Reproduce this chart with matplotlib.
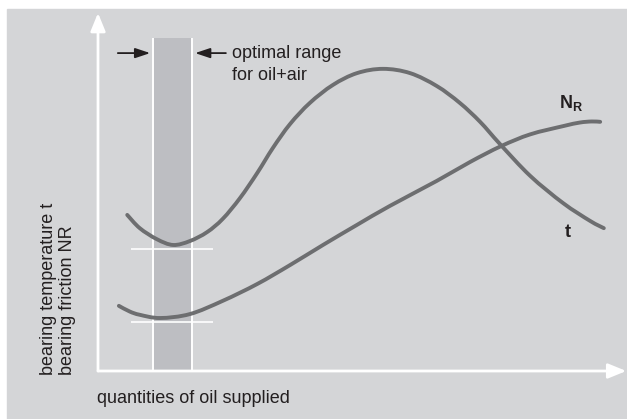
import matplotlib
matplotlib.use("Agg")
import matplotlib.pyplot as plt
import numpy as np
from matplotlib.patches import Rectangle, PathPatch
from matplotlib.path import Path

plt.rcParams["font.family"] = ["Liberation Sans", "DejaVu Sans"]
plt.rcParams["mathtext.fontset"] = "custom"
plt.rcParams["mathtext.bf"] = "Liberation Sans:bold"
plt.rcParams["mathtext.rm"] = "Liberation Sans"

# curves (x: quantity of oil, y: relative level, 0..100)
t_x = [5.6, 8.0, 11.3, 14.4, 17.6, 20.9, 23.9, 27.2, 30.5, 33.5, 36.8, 40.6,
       45.0, 49.6, 54.6, 59.8, 64.9, 69.3, 73.2, 77.0, 82.8, 89.1, 94.3, 96.9]
t_y = [43.6, 39.9, 36.8, 35.2, 36.3, 38.8, 42.5, 48.3, 55.3, 62.3, 69.0, 74.9,
       79.9, 83.2, 84.4, 83.2, 79.6, 74.9, 69.6, 63.4, 54.5, 46.9, 41.9, 39.9]

nr_x = [4.0, 6.1, 8.0, 11.9, 17.6, 23.9, 30.5, 36.8, 43.1, 49.6, 55.9,
        64.9, 71.3, 77.2, 82.8, 89.1, 92.3, 94.6, 96.2]
nr_y = [18.2, 16.6, 15.7, 14.8, 15.9, 19.6, 24.3, 29.6, 35.2, 40.8, 46.1,
        53.1, 58.4, 62.8, 66.1, 68.4, 69.4, 69.7, 69.6]

band = (10.5, 18.0)          # optimal range for oil+air
band_top = 93.0
min_t = 34.1                 # marks at the minimum of each curve
min_nr = 13.7
mark_x = (6.3, 22.0)

bg = "#d4d5d7"
band_col = "#bdbec2"
line_col = "#6d6e70"
txt_col = "#231f20"
fs = 13


def smooth_path(xs, ys):
    # bezier path through the read points (catmull-rom tangents)
    p = np.column_stack([xs, ys])
    ext = np.vstack([p[0], p, p[-1]])
    verts = [p[0]]
    codes = [Path.MOVETO]
    for i in range(len(p) - 1):
        p0, p1, p2, p3 = ext[i], ext[i + 1], ext[i + 2], ext[i + 3]
        verts += [p1 + (p2 - p0) / 6, p2 - (p3 - p1) / 6, p2]
        codes += [Path.CURVE4] * 3
    return Path(verts, codes)


fig = plt.figure(figsize=(6.27, 4.19), dpi=100)
fig.add_artist(Rectangle((7 / 627, 0), 1, (419 - 9) / 419,
                         transform=fig.transFigure, color=bg, zorder=-5))

ax = fig.add_axes([98 / 627, (419 - 371) / 419, (620 - 98) / 627, (371 - 13) / 419])
ax.set_zorder(2)
ax.set_xlim(0, 100)
ax.set_ylim(0, 100)
ax.axis("off")

# optimal band
ax.add_patch(Rectangle((band[0], 0), band[1] - band[0], band_top,
                       facecolor=band_col, edgecolor="none", zorder=1))
ax.vlines(band, 0, band_top, colors="white", lw=1.4, zorder=1)

# short white marks at the minima
ax.hlines([min_t, min_nr], mark_x[0], mark_x[1], colors="white", lw=1.2, zorder=2)

# axes arrows
head = "-|>,head_length=1.1,head_width=0.45"
ax.annotate("", xy=(0, 100), xytext=(0, 0), annotation_clip=False,
            arrowprops=dict(arrowstyle=head, color="white", lw=2,
                            shrinkA=0, shrinkB=0))
ax.annotate("", xy=(101.2, 0), xytext=(0, 0), annotation_clip=False,
            arrowprops=dict(arrowstyle=head, color="white", lw=2,
                            shrinkA=0, shrinkB=0))

for xs, ys in [(t_x, t_y), (nr_x, nr_y)]:
    ax.add_patch(PathPatch(smooth_path(xs, ys), facecolor="none",
                           edgecolor=line_col, lw=2.8, capstyle="round", zorder=3))

# band arrows
small = "-|>,head_length=0.9,head_width=0.3"
ax.annotate("", xy=(10.0, 88.8), xytext=(3.8, 88.8),
            arrowprops=dict(arrowstyle=small, color=txt_col, lw=1.3,
                            shrinkA=0, shrinkB=0))
ax.annotate("", xy=(18.6, 88.8), xytext=(24.5, 88.8),
            arrowprops=dict(arrowstyle=small, color=txt_col, lw=1.3,
                            shrinkA=0, shrinkB=0))
ax.text(25.6, 87.4, "optimal range", fontsize=fs, color=txt_col,
        va="baseline", ha="left")
ax.text(25.6, 81.3, "for oil+air", fontsize=fs, color=txt_col,
        va="baseline", ha="left")

ax.text(90.6, 74.8, r"$\mathbf{N_R}$", fontsize=fs, color=txt_col,
        ha="center", va="center")
ax.text(90.0, 38.8, "t", fontsize=fs, fontweight="bold", color=txt_col,
        ha="center", va="center")

fig.text(49 / 627, (419 - 375) / 419, "bearing temperature t", rotation=90,
         fontsize=fs, color=txt_col, ha="center", va="bottom")
fig.text(68 / 627, (419 - 375) / 419, "bearing friction NR", rotation=90,
         fontsize=fs, color=txt_col, ha="center", va="bottom")
fig.text(97 / 627, (419 - 398) / 419, "quantities of oil supplied",
         fontsize=fs, color=txt_col, ha="left", va="center")

fig.savefig("out.png", dpi=100, facecolor="white")
